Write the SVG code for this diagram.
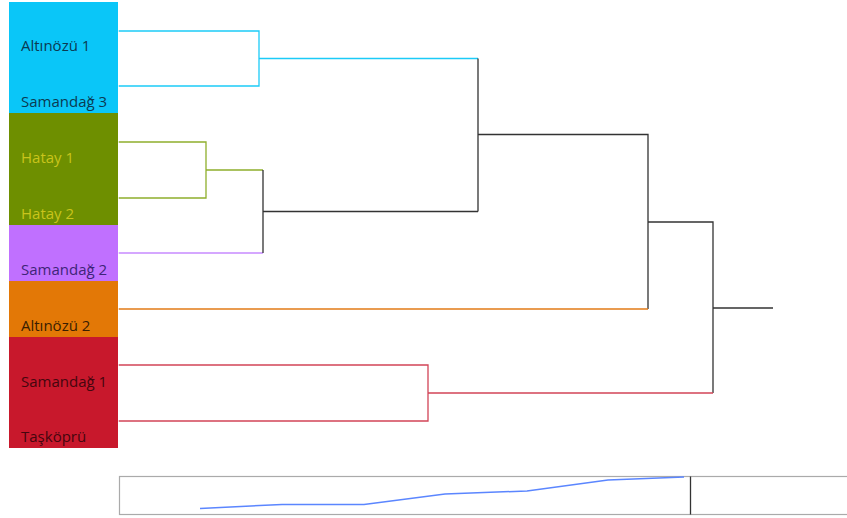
<svg xmlns="http://www.w3.org/2000/svg" width="847" height="518" viewBox="0 0 847 518">
<style>
.lbl{font-family:"Open Sans","Noto Sans",sans-serif;font-size:15px}
.c{fill:none;stroke-width:1.3}
rect.b{shape-rendering:crispEdges}
</style>
<rect width="847" height="518" fill="#fff"/>
<g id="leaf-altinozu1"><rect class="b" x="9" y="2" width="109" height="57" fill="#0AC6F8"/><text class="lbl" x="21" y="51" fill="#0B3A52">Altınözü 1</text></g>
<g id="leaf-samandag3"><rect class="b" x="9" y="58" width="109" height="55" fill="#0AC6F8"/><text class="lbl" x="21" y="107" fill="#0B3A52">Samandağ 3</text></g>
<g id="leaf-hatay1"><rect class="b" x="9" y="113" width="109" height="57" fill="#6E8F00"/><text class="lbl" x="21" y="163" fill="#C9C41C">Hatay 1</text></g>
<g id="leaf-hatay2"><rect class="b" x="9" y="169" width="109" height="56" fill="#6E8F00"/><text class="lbl" x="21" y="219" fill="#C9C41C">Hatay 2</text></g>
<g id="leaf-samandag2"><rect class="b" x="9" y="225" width="109" height="56" fill="#C070FF"/><text class="lbl" x="21" y="275" fill="#3E2478">Samandağ 2</text></g>
<g id="leaf-altinozu2"><rect class="b" x="9" y="281" width="109" height="56" fill="#E37806"/><text class="lbl" x="21" y="331" fill="#3A1E02">Altınözü 2</text></g>
<g id="leaf-samandag1"><rect class="b" x="9" y="337" width="109" height="57" fill="#C8182C"/><text class="lbl" x="21" y="386.5" fill="#45060E">Samandağ 1</text></g>
<g id="leaf-taskopru"><rect class="b" x="9" y="393" width="109" height="55" fill="#C8182C"/><text class="lbl" x="21" y="442" fill="#45060E">Taşköprü</text></g>
<g id="connectors">
<path class="c" stroke="#1CCBF8" d="M118.7 31H259V86H118.7M259 58.5H478"/>
<path class="c" stroke="#8FAF2C" d="M118.7 142H206V198H118.7M206 170H263"/>
<path class="c" stroke="#C78AFF" d="M118.7 253H263"/>
<path class="c" stroke="#333" d="M263 170V253M263 211.5H478M478 58.5V211.5M478 134.5H648V309M648 222H713V393M713 308H773"/>
<path class="c" stroke="#E27A16" d="M118.7 309H648"/>
<path class="c" stroke="#D24457" d="M118.7 365H428V421H118.7M428 393H713"/>
</g>
<g id="overview">
<rect x="119.5" y="476.5" width="740" height="38" fill="#fff" stroke="#AAAAAA" stroke-width="1.2"/>
<polyline fill="none" stroke="#5B86FF" stroke-width="1.5" points="200,508.5 282,504.5 364,504.5 445,494 527,491 608,480 684,477"/>
<line x1="690.5" y1="476.5" x2="690.5" y2="514.5" stroke="#333" stroke-width="1.3"/>
</g>
</svg>
